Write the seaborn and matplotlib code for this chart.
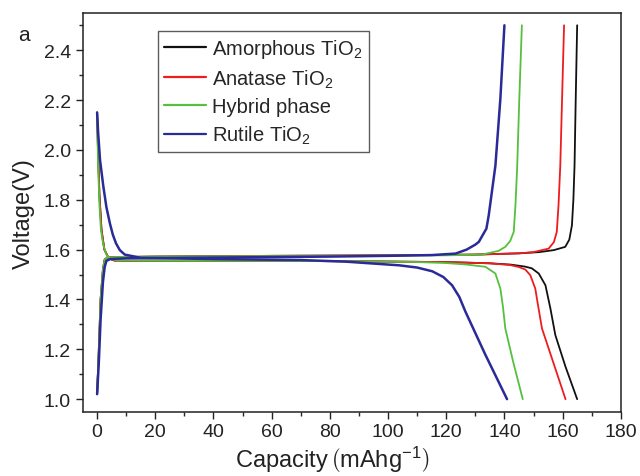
import numpy as np
import pandas as pd
import seaborn as sns
import matplotlib.pyplot as plt
from matplotlib.ticker import MultipleLocator

# Galvanostatic charge/discharge curves
samples = ["Amorphous TiO$_2$", "Anatase TiO$_2$", "Hybrid phase", "Rutile TiO$_2$"]
colors = ["#111111", "#ee1c1c", "#55c03c", "#2a2a98"]

# Amorphous TiO2
amor_dis_x = [0, 0.3, 0.8, 1.5, 2.5, 4, 6, 10, 30, 60, 90, 120, 135, 142, 147, 149.4, 151.8, 154.1, 155.8, 157.5, 161, 165]
amor_dis_y = [2.15, 2.0, 1.82, 1.68, 1.6, 1.565, 1.556, 1.555, 1.555, 1.555, 1.553, 1.55, 1.545, 1.54, 1.532, 1.525, 1.504, 1.457, 1.364, 1.257, 1.13, 1.0]
amor_chg_x = [0, 0.5, 1.2, 2.0, 2.6, 3.5, 6, 20, 60, 100, 130, 145, 152, 157, 160.9, 162.3, 163.2, 163.7, 164.1, 164.5, 165]
amor_chg_y = [1.02, 1.17, 1.40, 1.52, 1.56, 1.568, 1.57, 1.572, 1.575, 1.577, 1.58, 1.585, 1.59, 1.598, 1.611, 1.64, 1.697, 1.80, 1.937, 2.2, 2.5]

# Anatase TiO2
ana_dis_x = [0, 0.3, 0.8, 1.5, 2.5, 4, 6, 10, 30, 60, 90, 120, 135, 142, 145, 147.2, 148.9, 150.6, 151.5, 152.9, 157, 161]
ana_dis_y = [2.15, 2.0, 1.82, 1.68, 1.6, 1.565, 1.556, 1.555, 1.555, 1.555, 1.553, 1.55, 1.545, 1.538, 1.53, 1.52, 1.497, 1.444, 1.38, 1.284, 1.14, 1.0]
ana_chg_x = [0, 0.5, 1.2, 2.0, 2.6, 3.5, 6, 20, 60, 100, 130, 145, 150, 155.2, 157, 158, 158.6, 159.2, 159.8, 160.5]
ana_chg_y = [1.02, 1.17, 1.40, 1.52, 1.56, 1.568, 1.57, 1.572, 1.575, 1.577, 1.58, 1.585, 1.59, 1.604, 1.63, 1.671, 1.78, 1.937, 2.2, 2.5]

# Hybrid phase
hyb_dis_x = [0, 0.3, 0.8, 1.3, 2.1, 3.2, 4.4, 7, 30, 60, 90, 110, 120, 127, 133.5, 136.9, 138.6, 139.5, 140.3, 143, 146.3]
hyb_dis_y = [2.15, 1.95, 1.78, 1.68, 1.62, 1.58, 1.564, 1.556, 1.555, 1.555, 1.553, 1.55, 1.546, 1.54, 1.531, 1.504, 1.444, 1.37, 1.284, 1.15, 1.0]
hyb_chg_x = [0, 0.5, 1.2, 2.0, 2.6, 3.5, 6, 20, 60, 100, 120, 132.3, 138, 140.3, 142, 143.2, 143.8, 144.4, 145.1, 146]
hyb_chg_y = [1.02, 1.17, 1.40, 1.52, 1.56, 1.568, 1.57, 1.572, 1.574, 1.576, 1.577, 1.58, 1.595, 1.611, 1.635, 1.671, 1.78, 1.937, 2.2, 2.5]

# Rutile TiO2
rut_dis_x = [0, 0.35, 1.0, 2.1, 3.2, 4.4, 5.4, 6.5, 7.8, 9.5, 15, 40, 70, 85, 103.8, 110, 115.2, 119, 122, 124.5, 126.6, 133.5, 140.9]
rut_dis_y = [2.15, 2.07, 1.96, 1.857, 1.77, 1.705, 1.66, 1.625, 1.598, 1.58, 1.567, 1.562, 1.558, 1.552, 1.537, 1.528, 1.513, 1.49, 1.457, 1.41, 1.351, 1.177, 1.0]
rut_chg_x = [0, 0.6, 1.2, 2.0, 2.6, 3.2, 4.5, 10, 40, 80, 100, 115, 123.2, 127, 130, 131.2, 133.8, 134.6, 136.9, 138.6, 140]
rut_chg_y = [1.02, 1.15, 1.32, 1.47, 1.53, 1.555, 1.562, 1.565, 1.568, 1.572, 1.575, 1.578, 1.584, 1.6, 1.62, 1.631, 1.684, 1.737, 1.937, 2.204, 2.5]

curves = [
    (samples[0], "discharge", amor_dis_x, amor_dis_y),
    (samples[0], "charge", amor_chg_x, amor_chg_y),
    (samples[1], "discharge", ana_dis_x, ana_dis_y),
    (samples[1], "charge", ana_chg_x, ana_chg_y),
    (samples[2], "discharge", hyb_dis_x, hyb_dis_y),
    (samples[2], "charge", hyb_chg_x, hyb_chg_y),
    (samples[3], "discharge", rut_dis_x, rut_dis_y),
    (samples[3], "charge", rut_chg_x, rut_chg_y),
]

rows = []
for name, branch, xs, ys in curves:
    for i, (x, y) in enumerate(zip(xs, ys)):
        rows.append({"sample": name, "branch": branch, "order": i, "capacity": x, "voltage": y})
df = pd.DataFrame(rows)

sns.set_theme(style="ticks")
plt.rcParams["font.family"] = ["Liberation Sans", "DejaVu Sans"]
plt.rcParams["mathtext.fontset"] = "custom"
plt.rcParams["mathtext.rm"] = "Liberation Sans"
plt.rcParams["mathtext.it"] = "Liberation Sans:italic"
plt.rcParams["mathtext.bf"] = "Liberation Sans:bold"

fig = plt.figure(figsize=(6.4, 4.77), dpi=100)
ax = fig.add_axes([0.129, 0.135, 0.841, 0.836])

widths = {samples[0]: 1.3, samples[1]: 1.3, samples[2]: 1.3, samples[3]: 1.8}
for name, color in zip(samples, colors):
    sub = df[df["sample"] == name]
    sns.lineplot(data=sub, x="capacity", y="voltage", units="branch", estimator=None,
                 sort=False, color=color, lw=widths[name], ax=ax, legend=False)

handles = [plt.Line2D([], [], color=c, lw=1.6) for c in colors]
leg = ax.legend(handles, samples, loc="upper left", bbox_to_anchor=(0.14, 0.955),
                borderaxespad=0, fontsize=14.5, frameon=True, fancybox=False,
                handlelength=2.1, handletextpad=0.3, borderpad=0.3, labelspacing=0.38)
leg.get_frame().set_edgecolor("#333333")
leg.get_frame().set_linewidth(1.0)

ax.set_xlim(-5, 180)
ax.set_ylim(0.95, 2.55)
ax.xaxis.set_major_locator(MultipleLocator(20))
ax.xaxis.set_minor_locator(MultipleLocator(10))
ax.yaxis.set_major_locator(MultipleLocator(0.2))
ax.yaxis.set_minor_locator(MultipleLocator(0.1))
ax.yaxis.set_major_formatter(plt.FormatStrFormatter("%.1f"))
ax.tick_params(which="major", direction="out", length=5, width=1, labelsize=14, colors="#222222")
ax.tick_params(which="minor", direction="out", length=3, width=1)
for sp in ax.spines.values():
    sp.set_linewidth(1.1)
    sp.set_color("#222222")

ax.set_xlabel(r"Capacity$\,\left(\mathrm{mAhg^{-1}}\right)$", fontsize=17, color="#222222")
ax.xaxis.set_label_coords(0.463, -0.08)
ax.set_ylabel("Voltage(V)", fontsize=17, labelpad=6, color="#222222")
fig.text(0.028, 0.915, "a", fontsize=15, color="#222222")

fig.savefig("out.png", dpi=100)
